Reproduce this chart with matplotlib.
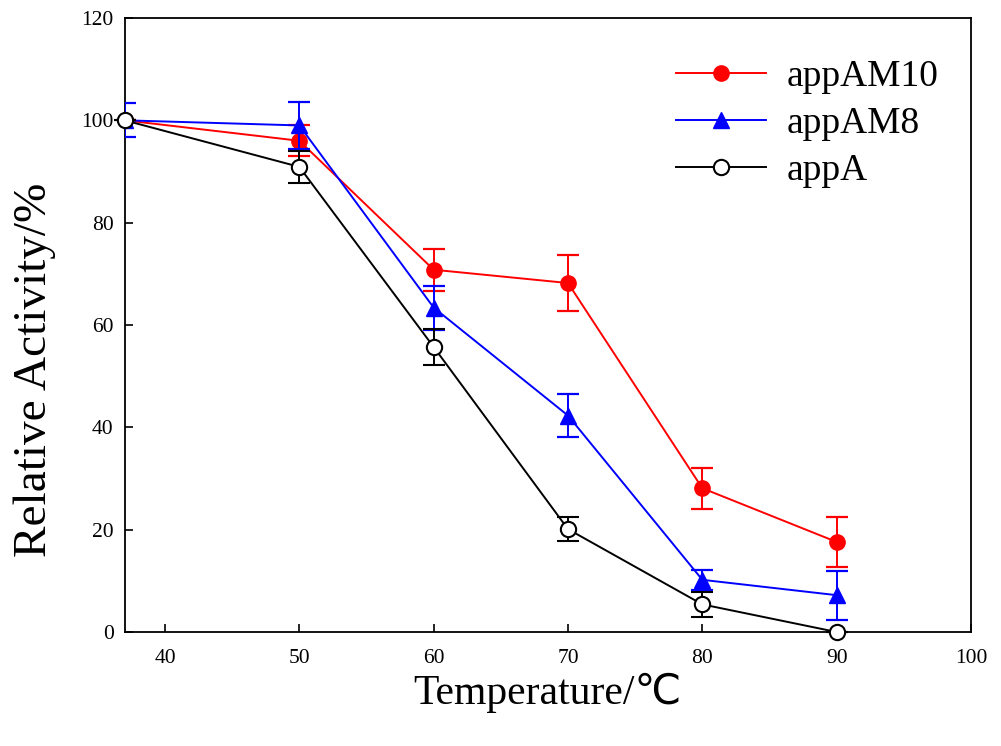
import numpy as np
import matplotlib.pyplot as plt

plt.rcParams['font.family'] = ['Liberation Serif', 'DejaVu Sans']

# Daten
temp = [37, 50, 60, 70, 80, 90]
am10 = [100, 96, 70.8, 68.2, 28.1, 17.6]
am10_err = [0, 3.0, 4.1, 5.5, 4.0, 4.9]
am8 = [100, 99, 63.4, 42.3, 10.2, 7.2]
am8_err = [3.3, 4.6, 4.3, 4.2, 2.0, 4.8]
appa = [100, 90.9, 55.7, 20.1, 5.4, 0]
appa_err = [0, 3.1, 3.6, 2.4, 2.5, 0]

fig = plt.figure(figsize=(10.01, 7.46), dpi=100)
ax = fig.add_axes([0.1246, 0.1528, 0.8454, 0.8231])

kw = dict(lw=1.4, elinewidth=1.4, capsize=8, capthick=1.6, markersize=11)
e1 = ax.errorbar(temp, am10, yerr=am10_err, color='#ff0000', marker='o',
                 label='appAM10', zorder=3, **kw)
e2 = ax.errorbar(temp, am8, yerr=am8_err, color='#0000ff', marker='^',
                 label='appAM8', zorder=4, **kw)
e3 = ax.errorbar(temp, appa, yerr=appa_err, color='black', marker='o', mfc='white',
                 mew=1.5, label='appA', zorder=5, clip_on=False, **kw)

ax.set_xlim(37, 100)
ax.set_ylim(0, 120)
ax.set_xticks([40, 50, 60, 70, 80, 90, 100])
ax.set_yticks(np.arange(0, 121, 20))
ax.tick_params(direction='in', labelsize=15.5, length=6, width=1.2)
ax.tick_params(axis='x', pad=12)
ax.tick_params(axis='y', pad=8)
for s in ax.spines.values():
    s.set_linewidth(1.3)

ax.set_xlabel('Temperature/℃', fontsize=30, labelpad=4)
ax.set_ylabel('Relative Activity/%', fontsize=34)
ax.yaxis.set_label_coords(-0.081, 0.427)

# Legende nur mit Linien, ohne Fehlerbalken
ax.legend([e1[0], e2[0], e3[0]], ['appAM10', 'appAM8', 'appA'],
          loc='upper left', bbox_to_anchor=(0.652, 0.932), frameon=False,
          fontsize=27, handlelength=2.4, handletextpad=0.55,
          labelspacing=0.33, borderpad=0, borderaxespad=0)

fig.savefig('out.png', dpi=100)
